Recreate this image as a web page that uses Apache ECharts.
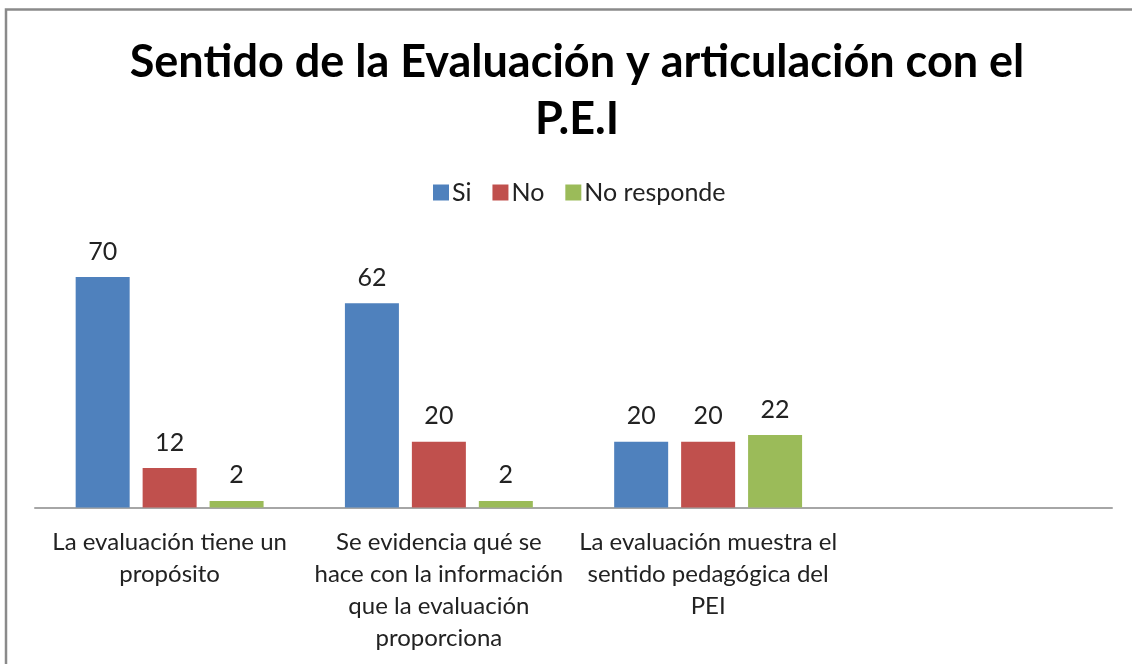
<!DOCTYPE html>
<html>
<head>
<meta charset="utf-8">
<script src="https://cdn.jsdelivr.net/npm/echarts@6/dist/echarts.min.js"></script>
<style>
html,body{margin:0;padding:0;background:#fff;}
#chart{width:1132px;height:664px;}
</style>
</head>
<body>
<div id="chart"></div>
<script>
const titleText = 'Sentido de la Evaluación y articulación con el\nP.E.I';
const categories = [
  'La evaluación tiene un\npropósito',
  'Se evidencia qué se\nhace con la información\nque la evaluación\nproporciona',
  'La evaluación muestra el\nsentido pedagógica del\nPEI',
  ''
];
const seriesNames = ['Si', 'No', 'No responde'];
const siValues = [70, 62, 20];
const noValues = [12, 20, 20];
const noRespondeValues = [2, 2, 22];
const colors = ['#4F81BD', '#C0504D', '#9BBB59'];

const FONT = 'Lato';
const chart = echarts.init(document.getElementById('chart'), null, {renderer: 'canvas'});

function barSeries(name, data, color) {
  return {
    name: name,
    type: 'bar',
    data: data,
    barWidth: 54,
    barGap: '24%',
    itemStyle: {color: color},
    label: {
      show: true,
      position: 'top',
      distance: 13,
      fontFamily: FONT,
      fontSize: 25,
      color: '#222'
    }
  };
}

chart.setOption({
  animation: false,
  backgroundColor: '#fff',
  graphic: [{
    type: 'rect',
    shape: {x: 6, y: 9.5, width: 1200, height: 800},
    style: {fill: 'none', stroke: '#8a8a8a', lineWidth: 2.5},
    silent: true
  }],
  title: {
    text: titleText,
    left: 572,
    top: 29,
    textAlign: 'center',
    textStyle: {
      fontFamily: FONT,
      fontWeight: 'bold',
      fontSize: 45,
      lineHeight: 57,
      color: '#000'
    }
  },
  legend: {
    data: seriesNames,
    left: 428,
    top: 175,
    icon: 'rect',
    itemWidth: 16,
    itemHeight: 16,
    itemGap: 21,
    textStyle: {fontFamily: FONT, fontSize: 25, color: '#222', padding: [0, 0, 0, -2]}
  },
  grid: {left: 35, right: 20, top: 244, bottom: 156.5, containLabel: false},
  xAxis: {
    type: 'category',
    data: categories,
    axisLine: {lineStyle: {color: '#a6a6a6', width: 2}},
    axisTick: {show: false},
    axisLabel: {
      interval: 0,
      margin: 19,
      fontFamily: FONT,
      fontSize: 24,
      lineHeight: 32,
      color: '#222',
      align: 'center'
    }
  },
  yAxis: {
    type: 'value',
    min: 0,
    max: 80,
    show: false,
    splitLine: {show: false}
  },
  series: [
    barSeries(seriesNames[0], siValues, colors[0]),
    barSeries(seriesNames[1], noValues, colors[1]),
    barSeries(seriesNames[2], noRespondeValues, colors[2])
  ]
});
</script>
</body>
</html>
